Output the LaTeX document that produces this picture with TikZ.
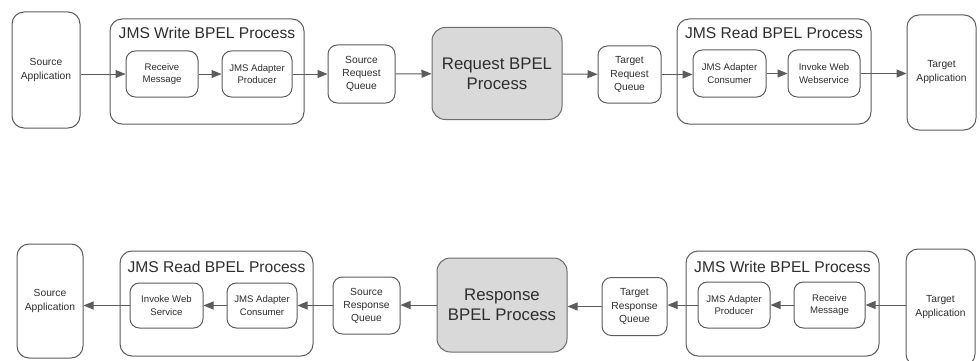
\documentclass[tikz,border=0pt]{standalone}
\usepackage{fontspec}
\setmainfont{Liberation Sans}
\usetikzlibrary{arrows.meta}
\definecolor{linegray}{HTML}{5C5C5C}
\definecolor{txtgray}{HTML}{2E2E2E}
\definecolor{bpelfill}{HTML}{D9D9D9}
\begin{document}
\begin{tikzpicture}[x=0.75pt,y=-0.75pt,
  every node/.style={text=txtgray, align=center, inner sep=0pt},
  rbox/.style={draw=linegray, line width=0.75pt, fill=white},
  appbox/.style={rbox, rounded corners=9pt, font=\fontsize{7.7}{10.5}\selectfont},
  groupbox/.style={rbox, rounded corners=9pt},
  grouptitle/.style={font=\fontsize{11.7}{14}\selectfont},
  stagebox/.style={rbox, rounded corners=7pt, font=\fontsize{7.2}{9.5}\selectfont},
  queuebox/.style={rbox, rounded corners=7pt, font=\fontsize{7.7}{9.8}\selectfont},
  bpelbox/.style={rbox, draw=gray!85!black, fill=bpelfill, rounded corners=10pt,
                  font=\fontsize{12.6}{15}\selectfont},
  flow/.style={draw=linegray, line width=0.75pt, -{Triangle[length=7.5pt,width=6pt]}}
]
\useasboundingbox (0,0) rectangle (980,360);
\clip (0,0) rectangle (980,360);

% ---------------- request path ----------------
\node[appbox, minimum width=51pt, minimum height=87pt] (srcA) at (46,70) {Source\\Application};
\node[groupbox, minimum width=145.5pt, minimum height=78.75pt] (jmsW) at (207,71.5) {};
\node[grouptitle] (jmsWt) at (207,33) {JMS Write BPEL Process};
\node[stagebox, minimum width=54pt, minimum height=34.5pt] (recv) at (162,74) {Receive\\Message};
\node[stagebox, minimum width=52.5pt, minimum height=34.5pt] (prod) at (257,74) {JMS Adapter\\Producer};
\node[queuebox, minimum width=50.25pt, minimum height=43.5pt] (srq) at (361.5,74) {Source\\Request\\Queue};
\node[bpelbox, minimum width=97.5pt, minimum height=69pt] (req) at (497,73.5) {Request BPEL\\Process};
\node[queuebox, minimum width=47.25pt, minimum height=42.75pt] (trq) at (629.5,74.5) {Target\\Request\\Queue};
\node[groupbox, minimum width=145.5pt, minimum height=78.75pt] (jmsR) at (774,71.5) {};
\node[grouptitle] (jmsRt) at (774,33) {JMS Read BPEL Process};
\node[stagebox, minimum width=54.75pt, minimum height=35.25pt] (cons) at (729.5,73.5) {JMS Adapter\\Consumer};
\node[stagebox, minimum width=54pt, minimum height=35.25pt] (inv) at (824,73.5) {Invoke Web\\Webservice};
\node[appbox, minimum width=51.75pt, minimum height=86.25pt] (tgtA) at (941.5,72.5) {Target\\Application};

\draw[flow] (recv.west -| srcA.east) -- (recv.west);
\draw[flow] (recv) -- (prod);
\draw[flow] (prod.east) -- (prod.east -| srq.west);
\draw[flow] (srq) -- (req);
\draw[flow] (req) -- (trq);
\draw[flow] (trq.east) -- (trq.east -| cons.west);
\draw[flow] (cons) -- (inv);
\draw[flow] (inv.east) -- (inv.east -| tgtA.west);

% ---------------- response path ----------------
\node[appbox, minimum width=49.5pt, minimum height=85.5pt] (srcB) at (50,301) {Source\\Application};
\node[groupbox, minimum width=144.75pt, minimum height=78.75pt] (jmsRB) at (216.5,303.5) {};
\node[grouptitle] (jmsRBt) at (216.5,267) {JMS Read BPEL Process};
\node[stagebox, minimum width=54.75pt, minimum height=33.75pt] (invB) at (166.5,305.5) {Invoke Web\\Service};
\node[stagebox, minimum width=52.5pt, minimum height=33.75pt] (consB) at (262,305.5) {JMS Adapter\\Consumer};
\node[queuebox, minimum width=50.25pt, minimum height=42.75pt] (srsq) at (366.5,305.5) {Source\\Response\\Queue};
\node[bpelbox, minimum width=97.5pt, minimum height=70.5pt] (resp) at (502,305) {Response\\BPEL Process};
\node[queuebox, minimum width=48.75pt, minimum height=43.5pt] (trsq) at (634.5,306.5) {Target\\Response\\Queue};
\node[groupbox, minimum width=144.75pt, minimum height=78.75pt] (jmsWB) at (782.5,303.5) {};
\node[grouptitle] (jmsWBt) at (782.5,267) {JMS Write BPEL Process};
\node[stagebox, minimum width=54pt, minimum height=34.5pt] (prodB) at (734,305) {JMS Adapter\\Producer};
\node[stagebox, minimum width=53.25pt, minimum height=34.5pt] (recvB) at (829.5,305) {Receive\\Message};
\node[appbox, minimum width=51.75pt, minimum height=87.75pt] (tgtB) at (940.5,307.5) {Target\\Application};

\draw[flow] (recvB.east -| tgtB.west) -- (recvB.east);
\draw[flow] (recvB) -- (prodB);
\draw[flow] (prodB.west) -- (prodB.west -| trsq.east);
\draw[flow] (trsq.west) -- (trsq.west -| resp.east);
\draw[flow] (resp.west) -- (resp.west -| srsq.east);
\draw[flow] (srsq.west) -- (srsq.west -| consB.east);
\draw[flow] (consB) -- (invB);
\draw[flow] (invB.west) -- (invB.west -| srcB.east);
\end{tikzpicture}
\end{document}
